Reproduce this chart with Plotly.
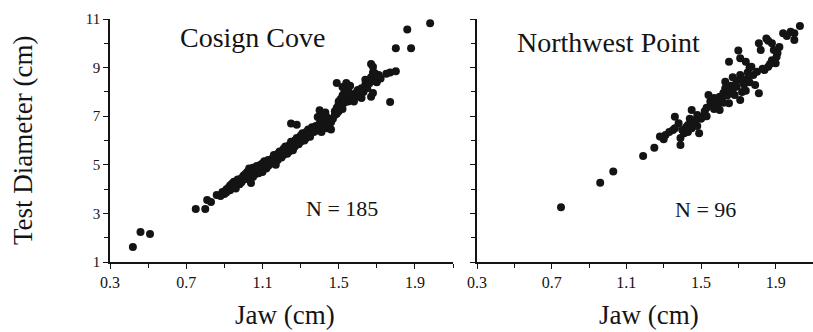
import plotly.graph_objects as go

# ---- Data ----
cosign_x = [0.42, 0.46, 0.51, 0.75, 0.80, 0.81, 0.83,
            0.86, 0.88, 0.89, 0.90, 0.91, 0.91, 0.92, 0.93, 0.93, 0.94, 0.94, 0.95, 0.95,
            0.96, 0.96, 0.97, 0.97, 0.98, 0.98, 0.99, 0.99, 1.00, 1.00,
            1.01, 1.01, 1.02, 1.02, 1.03, 1.03, 1.03, 1.04, 1.04, 1.04, 1.05, 1.05, 1.05,
            1.06, 1.06, 1.07, 1.07, 1.08, 1.08, 1.09, 1.09, 1.10, 1.10, 1.10, 1.11, 1.11,
            1.12, 1.12, 1.13, 1.13, 1.14,
            1.15, 1.15, 1.16, 1.16, 1.17, 1.17, 1.18, 1.18, 1.19, 1.19, 1.20, 1.20, 1.21,
            1.21, 1.22, 1.22, 1.23, 1.23, 1.24, 1.24, 1.25, 1.25, 1.26, 1.26, 1.27, 1.27,
            1.28, 1.28, 1.25, 1.28,
            1.29, 1.29, 1.30, 1.30, 1.31, 1.31, 1.32, 1.32, 1.33, 1.33, 1.34, 1.34, 1.35,
            1.35, 1.36, 1.36, 1.37, 1.37, 1.38, 1.38, 1.39, 1.39, 1.40, 1.40, 1.40, 1.41,
            1.41, 1.42, 1.42, 1.43, 1.43, 1.44, 1.44,
            1.45, 1.46, 1.46, 1.47, 1.48, 1.48, 1.49, 1.49, 1.50, 1.50, 1.50, 1.51, 1.51,
            1.52, 1.52, 1.52, 1.53, 1.53, 1.54, 1.54, 1.54, 1.55, 1.55, 1.56, 1.56, 1.49,
            1.57, 1.58, 1.58, 1.59, 1.60, 1.60, 1.61, 1.62, 1.62, 1.63, 1.64, 1.64, 1.65,
            1.66, 1.66, 1.67, 1.67, 1.67, 1.68, 1.68, 1.68, 1.69, 1.69, 1.70, 1.71, 1.72,
            1.75, 1.77, 1.80, 1.77, 1.80, 1.88, 1.86, 1.98]
cosign_y = [1.62, 2.23, 2.15, 3.18, 3.18, 3.55, 3.47,
            3.76, 3.72, 3.88, 3.80, 3.98, 3.86, 4.05, 3.95, 4.15, 4.05, 4.22, 4.10, 4.30,
            4.18, 4.02, 4.28, 4.40, 4.20, 4.35, 4.45, 4.28, 4.38, 4.55,
            4.45, 4.62, 4.52, 4.70, 4.40, 4.62, 4.85, 4.25, 4.55, 4.75, 4.65, 4.50, 4.88,
            4.60, 4.78, 4.70, 4.95, 4.80, 4.65, 4.75, 5.00, 4.85, 5.05, 4.70, 4.95, 5.15,
            4.85, 5.05, 5.20, 4.95, 5.10,
            5.05, 5.25, 5.15, 5.40, 5.00, 5.30, 5.20, 5.45, 5.35, 5.55, 5.30, 5.50, 5.40,
            5.65, 5.55, 5.75, 5.45, 5.65, 5.55, 5.80, 5.70, 5.95, 5.60, 5.85, 5.75, 6.00,
            5.90, 6.10, 6.70, 6.65,
            5.85, 6.05, 6.20, 5.95, 6.10, 6.30, 6.00, 6.20, 6.35, 6.10, 6.25, 6.45, 6.30,
            6.15, 6.40, 6.55, 6.35, 6.50, 6.60, 6.40, 6.50, 6.97, 6.70, 7.25, 6.45, 6.35,
            6.85, 7.05, 6.60, 7.15, 6.80, 6.95, 6.50,
            6.55, 6.45, 6.75, 6.90, 7.05, 7.20, 7.10, 7.35, 7.20, 7.50, 7.60, 7.40, 7.70,
            7.30, 7.85, 8.20, 7.55, 8.00, 8.37, 7.75, 7.95, 7.60, 8.10, 7.80, 8.25, 8.37,
            7.70, 7.90, 7.60, 7.95, 7.80, 8.08, 7.95, 8.15, 7.75, 8.00, 8.30, 8.50, 8.15,
            8.50, 8.35, 9.15, 7.80, 8.60, 9.03, 8.80, 7.95, 8.77, 8.45, 8.40, 8.70, 8.55,
            8.75, 8.80, 8.85, 7.58, 9.80, 9.80, 10.57, 10.83]

nw_x = [0.75, 0.96, 1.03, 1.19, 1.25, 1.28, 1.31, 1.33, 1.35, 1.36, 1.38, 1.39,
        1.39, 1.40, 1.41, 1.42, 1.43, 1.44, 1.45, 1.45, 1.46, 1.47, 1.48, 1.49,
        1.50, 1.51, 1.52, 1.53, 1.54, 1.55, 1.56, 1.57, 1.58, 1.59, 1.60, 1.60,
        1.61, 1.62, 1.63, 1.63, 1.64, 1.65, 1.65, 1.66, 1.65, 1.67, 1.68, 1.69,
        1.69, 1.70, 1.71, 1.71, 1.71, 1.72, 1.72, 1.73, 1.74, 1.75, 1.75, 1.76,
        1.77, 1.78, 1.79, 1.80, 1.81, 1.81, 1.82, 1.84, 1.85, 1.86, 1.87, 1.88,
        1.88, 1.89, 1.90, 1.905, 1.91, 1.86, 1.94, 1.98, 2.00, 2.00, 2.03, 1.83,
        1.76, 1.67, 1.62, 1.57, 1.53, 1.48, 1.43, 1.36, 1.30, 1.74, 1.92, 1.96]
nw_y = [3.25, 4.26, 4.72, 5.36, 5.70, 6.16, 6.23, 6.35, 6.43, 6.98, 6.71, 5.81,
        6.10, 6.43, 6.30, 6.55, 6.64, 6.90, 7.26, 6.50, 6.75, 6.84, 7.05, 6.30,
        6.90, 6.98, 7.20, 7.35, 7.87, 7.60, 7.46, 7.30, 7.67, 7.50, 7.26, 7.80,
        7.70, 7.95, 8.42, 8.15, 7.85, 8.01, 7.53, 8.25, 9.24, 8.10, 7.87, 8.21,
        8.45, 9.70, 9.38, 7.67, 8.70, 8.00, 8.50, 8.30, 9.24, 8.56, 8.80, 8.40,
        9.04, 8.70, 8.28, 8.83, 7.94, 10.00, 9.72, 8.90, 10.20, 9.04, 9.15, 10.00,
        9.30, 9.72, 9.18, 9.45, 9.60, 10.10, 10.41, 10.48, 10.14, 10.41, 10.71, 8.95,
        9.00, 8.60, 7.55, 7.75, 7.00, 6.60, 6.35, 6.50, 6.05, 8.05, 9.85, 10.30]

x_ticks = [0.3, 0.7, 1.1, 1.5, 1.9]
y_ticks = [1, 3, 5, 7, 9, 11]
panel_titles = ["Cosign Cove", "Northwest Point"]
n_labels = ["N = 185", "N = 96"]
x_title = "Jaw (cm)"
y_title = "Test Diameter (cm)"

FONT = "Liberation Serif"
INK = "#141414"

fig = go.Figure()
fig.add_trace(go.Scatter(x=cosign_x, y=cosign_y, mode="markers",
                         marker=dict(size=8, color=INK), xaxis="x", yaxis="y",
                         showlegend=False, hoverinfo="skip"))
fig.add_trace(go.Scatter(x=nw_x, y=nw_y, mode="markers",
                         marker=dict(size=8, color=INK), xaxis="x2", yaxis="y2",
                         showlegend=False, hoverinfo="skip"))

W, H = 813, 332
y_dom = [(H - 262) / H, (H - 19) / H]

def xaxis(domain, anchor):
    return dict(domain=domain, anchor=anchor, range=[0.3, 2.1], automargin=False,
                tickmode="array", tickvals=x_ticks, ticktext=[str(v) for v in x_ticks],
                showline=True, linecolor=INK, linewidth=1.5, ticks="outside",
                ticklen=5, tickwidth=1.2, tickcolor=INK, showgrid=False, zeroline=False,
                tickfont=dict(family=FONT, size=16, color=INK),
                minor=dict(tickmode="array", tickvals=[0.5, 0.9, 1.3, 1.7, 2.1],
                           ticks="outside", ticklen=4, tickcolor=INK, tickwidth=1))

def yaxis(anchor, labels):
    return dict(domain=y_dom, anchor=anchor, range=[1, 11], automargin=False,
                tickmode="array", tickvals=y_ticks, ticktext=[str(v) for v in y_ticks],
                showticklabels=labels,
                showline=True, linecolor=INK, linewidth=1.5, ticks="outside",
                ticklen=5, tickwidth=1.2, tickcolor=INK, showgrid=False, zeroline=False,
                tickfont=dict(family=FONT, size=15, color=INK),
                minor=dict(tickmode="array", tickvals=[2, 4, 6, 8, 10],
                           ticks="outside", ticklen=4, tickcolor=INK, tickwidth=1))

def label(text, x, y, size, angle=0):
    return dict(text=text, x=x / W, y=(H - y) / H, xref="paper", yref="paper",
                showarrow=False, xanchor="center", yanchor="middle", textangle=angle,
                font=dict(family=FONT, size=size, color=INK))

fig.update_layout(
    width=W, height=H,
    margin=dict(l=0, r=0, t=0, b=0),
    paper_bgcolor="white", plot_bgcolor="white",
    xaxis=xaxis([110 / W, 453 / W], "y"),
    xaxis2=xaxis([477 / W, 1.0], "y2"),
    yaxis=yaxis("x", True),
    yaxis2=yaxis("x2", False),
    annotations=[
        label(panel_titles[0], 252, 38, 28),
        label(panel_titles[1], 608, 42, 28),
        label(n_labels[0], 342, 208, 22),
        label(n_labels[1], 705, 209, 22),
        label(x_title, 285, 315, 27),
        label(x_title, 649, 315, 27),
        label(y_title, 23, 140, 27, angle=-90),
    ],
)

fig.write_html("out.html", config={"displayModeBar": False},
               post_script="document.body.style.margin='0';document.body.style.overflow='hidden';")
